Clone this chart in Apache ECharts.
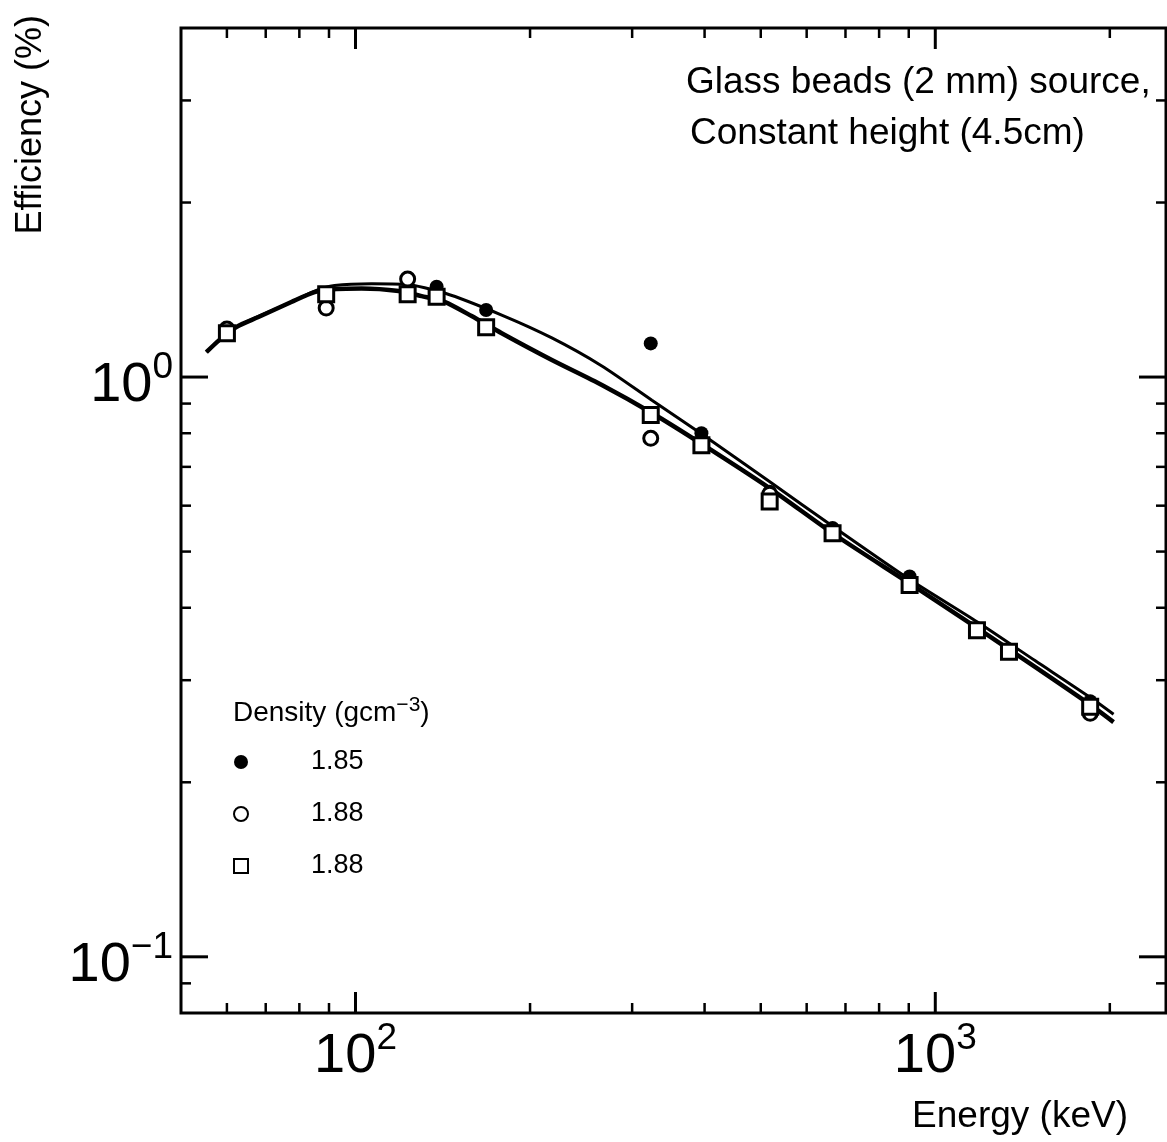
<!DOCTYPE html>
<html>
<head>
<meta charset="utf-8">
<script src="https://cdn.jsdelivr.net/npm/echarts@6/dist/echarts.min.js"></script>
<style>
html,body{margin:0;padding:0;background:#fff;}
#chart{width:1167px;height:1142px;}
</style>
</head>
<body>
<div id="chart"></div>
<script>
// ---------------- data ----------------
const xMin = 50, xMax = 2500;      // Energy (keV), log axis
const yMin = 0.08, yMax = 4;       // Efficiency (%), log axis

const xTickLabels = [100, 1000];
const yTickLabels = [0.1, 1];
const xMajorTicks = [100, 1000];
const xMinorTicks = [60, 70, 80, 90, 200, 300, 400, 500, 600, 700, 800, 900, 2000];
const yMajorTicks = [0.1, 1];
const yMinorTicks = [0.09, 0.2, 0.3, 0.4, 0.5, 0.6, 0.7, 0.8, 0.9, 2, 3];

// density 1.85 (filled circles)
const energyD185 = [138, 168, 323, 395, 518, 665, 903, 1850];
const effD185    = [1.431, 1.305, 1.143, 0.800, 0.634, 0.549, 0.453, 0.276];
// density 1.88 (open circles)
const energyD188c = [60, 89, 123, 323, 518, 665, 1850];
const effD188c    = [1.210, 1.315, 1.476, 0.784, 0.628, 0.540, 0.263];
// density 1.88 (open squares)
const energyD188s = [60, 89, 123, 138, 168, 323, 395, 518, 665, 903, 1180, 1340, 1850];
const effD188s    = [1.190, 1.390, 1.390, 1.375, 1.219, 0.860, 0.763, 0.610, 0.538, 0.438, 0.366, 0.336, 0.270];

// fitted curves
const fitUpperE   = [55.3, 62.3, 77.5, 85.0, 92.0, 106.6, 121.5, 142.4, 178.7, 218.1, 266.0, 324.5, 396.0, 516.8, 671.9, 902, 1182, 1488, 1852, 2030];
const fitUpperEff = [1.104, 1.220, 1.347, 1.407, 1.438, 1.449, 1.446, 1.396, 1.279, 1.168, 1.045, 0.912, 0.797, 0.661, 0.549, 0.448, 0.378, 0.324, 0.280, 0.262];
const fitLowerE   = [55.3, 58.2, 62.3, 68.0, 77.5, 85.0, 92.7, 102.4, 118.7, 130.0, 142.4, 158.6, 178.7, 218.1, 266.0, 324.5, 396.0, 516.8, 671.9, 902, 1182, 1488, 1852, 2030];
const fitLowerEff = [1.104, 1.158, 1.220, 1.269, 1.347, 1.401, 1.418, 1.421, 1.407, 1.379, 1.348, 1.274, 1.190, 1.070, 0.969, 0.867, 0.766, 0.644, 0.534, 0.441, 0.369, 0.316, 0.272, 0.254];

const seriesNames = ['1.85', '1.88 circles', '1.88 squares'];
const legendLabels = {'1.85': '1.85', '1.88 circles': '1.88', '1.88 squares': '1.88'};

// ---------------- chart ----------------
const FONT = '"Liberation Sans", Arial, Helvetica, sans-serif';
const zip = (a, b) => a.map((v, i) => [v, b[i]]);

function isOneOf(v, arr) {
  return arr.some(t => Math.abs(Math.log10(v) - Math.log10(t)) < 1e-6);
}
function powLabel(v, list) {
  if (!isOneOf(v, list)) return '';
  const e = Math.round(Math.log10(v));
  return '{m|10}{s|' + (e < 0 ? '\u2212' + (-e) : e) + '}';
}
const labelRich = {
  m: {fontSize: 56, lineHeight: 73, fontFamily: FONT, color: '#000'},
  s: {fontSize: 37, lineHeight: 37, fontFamily: FONT, color: '#000', verticalAlign: 'top'}
};

function xTickRender(params, api) {
  const v = api.value(0);
  const major = api.value(2) === 1;
  const len = major ? 21 : 10;
  const pb = api.coord([v, yMin]);
  const pt = api.coord([v, yMax]);
  const st = {stroke: '#000', lineWidth: major ? 3 : 2.5};
  return {type: 'group', children: [
    {type: 'line', shape: {x1: pb[0], y1: pb[1], x2: pb[0], y2: pb[1] - len}, style: st},
    {type: 'line', shape: {x1: pt[0], y1: pt[1], x2: pt[0], y2: pt[1] + len}, style: st}
  ]};
}
function yTickRender(params, api) {
  const v = api.value(1);
  const major = api.value(2) === 1;
  const len = major ? 27 : 10;
  const pl = api.coord([xMin, v]);
  const pr = api.coord([xMax, v]);
  const st = {stroke: '#000', lineWidth: major ? 3 : 2.5};
  return {type: 'group', children: [
    {type: 'line', shape: {x1: pl[0], y1: pl[1], x2: pl[0] + len, y2: pl[1]}, style: st},
    {type: 'line', shape: {x1: pr[0], y1: pr[1], x2: pr[0] - len, y2: pr[1]}, style: st}
  ]};
}

const chart = echarts.init(document.getElementById('chart'), null, {renderer: 'canvas'});
const option = {
  animation: false,
  backgroundColor: '#fff',
  grid: {left: 181, right: 1, top: 28, bottom: 129, show: true, borderColor: '#000', borderWidth: 3,
         backgroundColor: 'transparent', containLabel: false, outerBoundsMode: 'none'},
  xAxis: {
    type: 'log', logBase: 10, min: xMin, max: xMax,
    axisLine: {show: false}, axisTick: {show: false}, splitLine: {show: false}, minorTick: {show: false},
    axisLabel: {margin: 7, formatter: v => powLabel(v, xTickLabels), rich: labelRich, showMinLabel: true, showMaxLabel: true, hideOverlap: false}
  },
  yAxis: {
    type: 'log', logBase: 10, min: yMin, max: yMax,
    axisLine: {show: false}, axisTick: {show: false}, splitLine: {show: false}, minorTick: {show: false},
    axisLabel: {margin: 8, padding: [18, 0, 0, 0], formatter: v => powLabel(v, yTickLabels), rich: labelRich, hideOverlap: false}
  },
  legend: {
    data: [
      {name: seriesNames[0], icon: 'circle'},
      {name: seriesNames[1], icon: 'circle'},
      {name: seriesNames[2], icon: 'path://M0,0H10V10H0Z'}
    ],
    orient: 'vertical', left: 233, top: 747, padding: 0,
    itemWidth: 130, itemHeight: 14, itemGap: 22, symbolKeepAspect: true,
    selectedMode: false,
    formatter: n => legendLabels[n],
    textStyle: {fontSize: 27, lineHeight: 30, fontFamily: FONT, color: '#000'}
  },
  graphic: [
    {type: 'text', x: 686, y: 83, style: {text: 'Glass beads (2 mm) source,', font: '37px ' + FONT, fill: '#000', verticalAlign: 'middle', align: 'left'}},
    {type: 'text', x: 690, y: 134, style: {text: 'Constant height (4.5cm)', font: '37px ' + FONT, fill: '#000', verticalAlign: 'middle', align: 'left'}},
    {type: 'text', x: 1128, y: 1117, style: {text: 'Energy (keV)', font: '37px ' + FONT, fill: '#000', verticalAlign: 'middle', align: 'right'}},
    {type: 'text', x: 31, y: 15, rotation: Math.PI / 2, style: {text: 'Efficiency (%)', font: '36px ' + FONT, fill: '#000', verticalAlign: 'middle', align: 'right'}},
    {type: 'text', x: 233, y: 713, style: {
      text: '{a|Density (gcm}{b|\u22123}{a|)}', verticalAlign: 'middle', align: 'left',
      rich: {a: {fontSize: 28, lineHeight: 36, fontFamily: FONT, fill: '#000'},
             b: {fontSize: 21, lineHeight: 21, fontFamily: FONT, fill: '#000', verticalAlign: 'top'}}
    }}
  ],
  series: [
    {type: 'custom', name: 'xticks', renderItem: xTickRender, clip: false, silent: true, z: 6,
     data: xMajorTicks.map(v => [v, 1, 1]).concat(xMinorTicks.map(v => [v, 1, 0]))},
    {type: 'custom', name: 'yticks', renderItem: yTickRender, clip: false, silent: true, z: 6,
     data: yMajorTicks.map(v => [100, v, 1]).concat(yMinorTicks.map(v => [100, v, 0]))},
    {type: 'line', name: 'fit upper', data: zip(fitUpperE, fitUpperEff), smooth: 0.25, showSymbol: false, silent: true, z: 2,
     lineStyle: {color: '#000', width: 3}},
    {type: 'line', name: 'fit lower', data: zip(fitLowerE, fitLowerEff), smooth: 0.25, showSymbol: false, silent: true, z: 2,
     lineStyle: {color: '#000', width: 4.5}},
    {type: 'scatter', name: seriesNames[0], data: zip(energyD185, effD185), symbol: 'circle', symbolSize: 14, z: 3,
     itemStyle: {color: '#000', borderColor: '#000', borderWidth: 0, opacity: 1}, emphasis: {disabled: true}},
    {type: 'scatter', name: seriesNames[1], data: zip(energyD188c, effD188c), symbol: 'circle', symbolSize: 14, z: 4,
     itemStyle: {color: '#fff', borderColor: '#000', borderWidth: 3, opacity: 1}, emphasis: {disabled: true}},
    {type: 'scatter', name: seriesNames[2], data: zip(energyD188s, effD188s), symbol: 'rect', symbolSize: 15, z: 5,
     itemStyle: {color: '#fff', borderColor: '#000', borderWidth: 3, opacity: 1}, emphasis: {disabled: true}}
  ]
};
chart.setOption(option);
</script>
</body>
</html>
